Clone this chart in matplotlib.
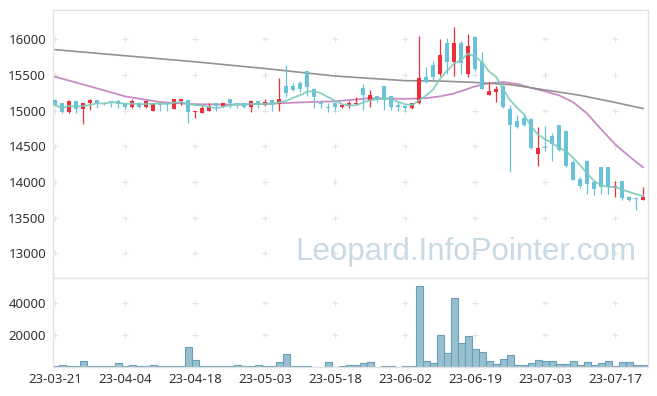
import numpy as np
import pandas as pd
import matplotlib
matplotlib.use('Agg')
import matplotlib.pyplot as plt

# tick labels (every 10 trading days)
date_labels = ['23-03-21', '23-04-04', '23-04-18', '23-05-03', '23-05-18',
               '23-06-02', '23-06-19', '23-07-03', '23-07-17']

# daily prices
opens = [15150, 15100, 14985, 15135, 15020, 15100, 15145, 15110, 15135, 15135,
         15100, 15055, 15110, 15055, 15000, 15100, 15100, 15025, 15135, 15150,
         14985, 14970, 15000, 15100, 15055, 15160, 15100, 15100, 15055, 15135,
         15080, 15150, 15095, 15345, 15345, 15385, 15555, 15305, 15110, 15045,
         15110, 15055, 15070, 15090, 15320, 15140, 15205, 15345, 15205, 15080,
         15070, 15030, 15100, 15475, 15640, 15510, 15955, 15685, 15945, 15510,
         16030, 15685, 15220, 15265, 15340, 15025, 14855, 14900, 14880, 14395,
         14490, 14645, 14800, 14715, 14275, 14035, 14300, 14005, 14205, 14205,
         13915, 14010, 13795, 13770, 13750]
highs = [15160, 15105, 15150, 15140, 15110, 15165, 15150, 15115, 15140, 15160,
         15105, 15160, 15120, 15140, 15110, 15110, 15105, 15170, 15165, 15155,
         15000, 15060, 15100, 15110, 15110, 15165, 15110, 15105, 15150, 15140,
         15160, 15155, 15455, 15640, 15390, 15420, 15560, 15320, 15150, 15110,
         15115, 15085, 15135, 15195, 15370, 15290, 15210, 15350, 15210, 15115,
         15075, 15110, 16040, 15605, 15700, 16000, 16025, 16170, 15970, 16070,
         16045, 15825, 15400, 15340, 15360, 15080, 14935, 14955, 14890, 14775,
         14785, 14680, 14805, 14720, 14310, 14070, 14305, 14010, 14210, 14210,
         14010, 14015, 13800, 13775, 13935]
lows = [15065, 14970, 14965, 14965, 14810, 15010, 15035, 15085, 15055, 15035,
        15020, 15040, 15035, 15040, 14990, 15000, 15000, 15020, 15080, 14820,
        14890, 14960, 14990, 15000, 15045, 15040, 15040, 15040, 14975, 15030,
        15070, 14990, 14990, 15195, 15270, 15255, 15205, 15030, 15030, 14975,
        14990, 15040, 15040, 15085, 15010, 15050, 15125, 15010, 15010, 15000,
        14995, 15025, 15095, 15390, 15430, 15485, 15515, 15485, 15515, 15475,
        15555, 15300, 15215, 15125, 15040, 14145, 14760, 14780, 14460, 14220,
        14440, 14300, 14440, 14210, 14025, 13910, 13835, 13815, 13835, 13835,
        13795, 13750, 13735, 13600, 13740]
closes = [15080, 14985, 15135, 15025, 15105, 15150, 15110, 15100, 15115, 15090,
          15055, 15135, 15055, 15135, 15100, 15080, 15090, 15160, 15160, 14985,
          15000, 15040, 15070, 15070, 15100, 15100, 15085, 15055, 15135, 15080,
          15115, 15080, 15160, 15250, 15290, 15300, 15330, 15195, 15095, 15030,
          15055, 15080, 15100, 15110, 15220, 15220, 15150, 15150, 15055, 15055,
          15030, 15110, 15460, 15405, 15467, 15780, 15685, 15955, 15670, 15905,
          15580, 15310, 15275, 15310, 15045, 14805, 14770, 14800, 14470, 14480,
          14470, 14525, 14450, 14230, 14030, 13945, 13965, 13900, 13925, 13925,
          13940, 13775, 13740, 13760, 13795]
volumes = [850, 1500, 400, 400, 3600, 400, 850, 400, 850, 2750,
           400, 1500, 400, 400, 1500, 400, 400, 850, 850, 12200,
           4200, 850, 400, 850, 400, 400, 1500, 400, 400, 1500,
           400, 850, 3400, 8400, 400, 400, 850, 200, 100, 2900,
           100, 400, 1000, 1000, 2300, 2900, 100, 400, 400, 100,
           400, 400, 50500, 3500, 2300, 19800, 8700, 42800, 15000, 19100,
           11000, 9400, 3500, 1700, 4800, 7300, 1000, 1000, 2300, 4200,
           3500, 3500, 1700, 1700, 3500, 1000, 2900, 1000, 2300, 3500,
           400, 2900, 2900, 1000, 1000]

# longer moving averages read at a few days
ma20_idx = [0, 5, 10, 15, 20, 25, 30, 35, 40, 45, 50, 53, 55, 57, 60, 62, 64, 66,
            68, 70, 72, 74, 76, 78, 80, 82, 84]
ma20_vals = [15475, 15340, 15200, 15120, 15090, 15085, 15095, 15115, 15130, 15175,
             15165, 15175, 15200, 15240, 15340, 15385, 15400, 15375, 15320, 15270,
             15215, 15120, 14960, 14740, 14530, 14360, 14205]
ma120_idx = [0, 10, 20, 30, 40, 50, 55, 60, 65, 70, 75, 80, 84]
ma120_vals = [15855, 15770, 15685, 15590, 15485, 15420, 15415, 15395, 15365, 15290,
              15215, 15115, 15030]

UP = '#ec2f3b'
DOWN = '#69c1da'

plt.rcParams['font.family'] = ['Noto Sans', 'DejaVu Sans']
fig = plt.figure(figsize=(6.57, 3.96), dpi=100)
ax = fig.add_axes([53/657, 1-278/396, 595/657, 268/396])
axv = fig.add_axes([53/657, 1-367/396, 595/657, 89/396], sharex=ax)

o = np.array(opens); h = np.array(highs); l = np.array(lows); c = np.array(closes)
x = np.arange(len(o))
cols = [UP if cc > oo else DOWN for oo, cc in zip(o, c)]

# candles
ax.vlines(x, l, h, colors=cols, lw=0.9, zorder=2)
body_bot = np.minimum(o, c)
body_h = np.maximum(np.abs(c - o), 8)
ax.bar(x, body_h, bottom=body_bot, width=0.62, color=cols, lw=0, zorder=3)

# moving averages
ma5 = pd.Series(c).rolling(5, min_periods=1).mean()
ax.plot(x, ma5, color='#7ccbbb', lw=1.3, alpha=0.9, zorder=4)
ax.plot(ma20_idx, ma20_vals, color='#c98bc6', lw=1.3, zorder=1)
ax.plot(ma120_idx, ma120_vals, color='#929292', lw=1.2, zorder=1)

ax.set_ylim(12653, 16411)
ax.set_xlim(-0.29, 84.71)
yt = np.arange(13000, 16001, 500)
xt = np.arange(0, 85, 10)
ax.set_yticks(yt)
ax.set_xticks(xt)
gx, gy = np.meshgrid(xt, yt)
ax.plot(gx.ravel(), gy.ravel(), '+', color='#e4e4e4', ms=4, mew=0.8, zorder=0)

ax.text(0.981, 0.097, 'Leopard.InfoPointer.com', transform=ax.transAxes,
        ha='right', va='center', fontsize=22.5, color='#c8dae6', zorder=0,
        family='Liberation Sans')

# volume
axv.bar(x, volumes, width=1.0, color='#97bfd0', edgecolor='#6a9fb8', lw=0.8)
axv.set_ylim(0, 55600)
axv.set_yticks([20000, 40000])
vx, vy = np.meshgrid(xt, [20000, 40000])
axv.plot(vx.ravel(), vy.ravel(), '+', color='#e4e4e4', ms=4, mew=0.8, zorder=0)
axv.set_xticks(xt)
axv.set_xticklabels(date_labels)

for a in (ax, axv):
    for s in a.spines.values():
        s.set_color('#e2e2e2')
        s.set_linewidth(1)
    a.tick_params(length=0, labelsize=9.5, colors='#333333', pad=5)
plt.setp(ax.get_xticklabels(), visible=False)
axv.tick_params(axis='x', pad=4)

fig.savefig('out.png', dpi=100)
